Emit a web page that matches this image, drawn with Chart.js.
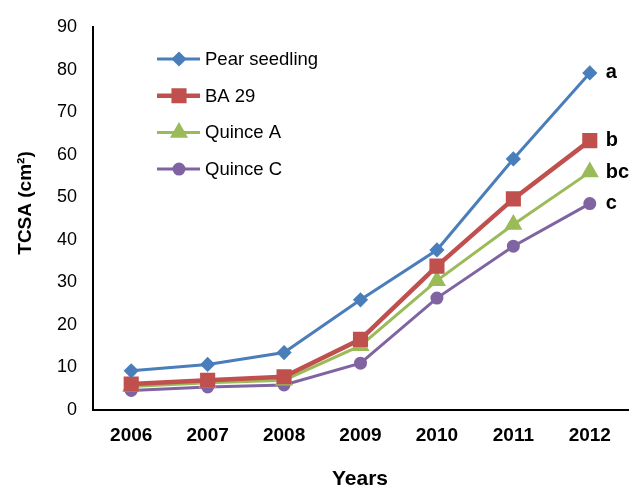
<!DOCTYPE html>
<html>
<head>
<meta charset="utf-8">
<script src="https://cdn.jsdelivr.net/npm/chart.js@4"></script>
<style>
  body { margin: 0; background: #fff; }
  #wrap { width: 634px; height: 489px; }
</style>
</head>
<body>
<div id="wrap"><canvas id="tcsaChart" width="634" height="489"></canvas></div>
<script>
const years = ['2006', '2007', '2008', '2009', '2010', '2011', '2012'];
const seriesNames = ['Pear seedling', 'BA 29', 'Quince A', 'Quince C'];
const pearSeedling = [9.2, 10.7, 13.5, 25.9, 37.6, 59.0, 79.2];
const ba29 = [6.1, 7.0, 7.8, 16.6, 33.8, 49.6, 63.3];
const quinceA = [5.5, 6.4, 7.0, 15.1, 30.4, 43.6, 55.9];
const quinceC = [4.6, 5.4, 5.9, 11.0, 26.3, 38.5, 48.5];
const groupLetters = ['a', 'b', 'bc', 'c'];
const yTicks = [0, 10, 20, 30, 40, 50, 60, 70, 80, 90];

const font = "'Liberation Sans', Arial, sans-serif";

// letters next to the last point, legend inside the plot, axis titles
const extras = {
    id: 'extras',
    afterDatasetsDraw(chart) {
        const ctx = chart.ctx;
        const area = chart.chartArea;
        ctx.save();
        chart.data.datasets.forEach((ds, i) => {
            const meta = chart.getDatasetMeta(i);
            const pt = meta.data[meta.data.length - 1];
            ctx.fillStyle = '#000';
            ctx.font = 'bold 20px ' + font;
            ctx.textBaseline = 'middle';
            ctx.textAlign = 'left';
            ctx.fillText(groupLetters[i], pt.x + 16, pt.y);

            // legend entry
            const y = 59 + i * 36.7;
            ctx.strokeStyle = ds.borderColor;
            ctx.lineWidth = ds.borderWidth;
            ctx.beginPath();
            ctx.moveTo(157, y);
            ctx.lineTo(200, y);
            ctx.stroke();
            Chart.helpers.drawPoint(ctx, {
                pointStyle: ds.pointStyle,
                radius: ds.pointRadius,
                borderWidth: 1
            }, 179, y);
            ctx.fillStyle = ds.borderColor;
            ctx.fill();
            ctx.fillStyle = '#000';
            ctx.font = '18.5px ' + font;
            ctx.fillText(seriesNames[i], 205, y + 1);
        });

        // axis titles
        ctx.fillStyle = '#000';
        ctx.textAlign = 'center';
        ctx.textBaseline = 'middle';
        ctx.font = 'bold 21px ' + font;
        ctx.fillText('Years', 360, 479);
        ctx.translate(26, 203);
        ctx.rotate(-Math.PI / 2);
        ctx.font = 'bold 19px ' + font;
        ctx.fillText('TCSA (cm²)', 0, 0);
        ctx.restore();
    }
};

const ctx = document.getElementById('tcsaChart').getContext('2d');
new Chart(ctx, {
    type: 'line',
    data: {
        labels: years,
        datasets: [
            { data: pearSeedling, borderColor: '#4A7EBB', backgroundColor: '#4A7EBB', borderWidth: 3, pointStyle: 'rectRot', pointRadius: 5.5 },
            { data: ba29, borderColor: '#C0504D', backgroundColor: '#C0504D', borderWidth: 4.5, pointStyle: 'rect', pointRadius: 7.5 },
            { data: quinceA, borderColor: '#9BBB59', backgroundColor: '#9BBB59', borderWidth: 3, pointStyle: 'triangle', pointRadius: 7.5 },
            { data: quinceC, borderColor: '#8064A2', backgroundColor: '#8064A2', borderWidth: 3, pointStyle: 'circle', pointRadius: 5 }
        ]
    },
    options: {
        responsive: false,
        animation: false,
        layout: { padding: { top: 27, right: 0, left: 0, bottom: 0 } },
        plugins: { legend: { display: false }, tooltip: { enabled: false } },
        elements: { line: { tension: 0 }, point: { borderWidth: 0 } },
        scales: {
            x: {
                offset: true,
                grid: { display: false, drawTicks: false },
                border: { color: '#000', width: 2 },
                ticks: { color: '#000', padding: 14, font: { family: font, size: 19, weight: 'bold' } },
                afterFit: s => { s.height = 79; }
            },
            y: {
                min: 0,
                max: 90,
                afterBuildTicks: s => { s.ticks = yTicks.map(v => ({ value: v })); },
                grid: { display: false, drawTicks: false },
                border: { color: '#000', width: 2 },
                ticks: { color: '#000', padding: 16, font: { family: font, size: 18 } },
                afterFit: s => { s.width = 93; }
            }
        }
    },
    plugins: [extras, {
        id: 'stretchRight',
        afterLayout(chart) {
            // plot area runs to x = 628 like the reference
            const x = chart.scales.x;
            x.right = 628;
            x.width = x.right - x.left;
            chart.chartArea.right = 628;
            chart.chartArea.width = 628 - chart.chartArea.left;
            x.configure();
        }
    }]
});
</script>
</body>
</html>
